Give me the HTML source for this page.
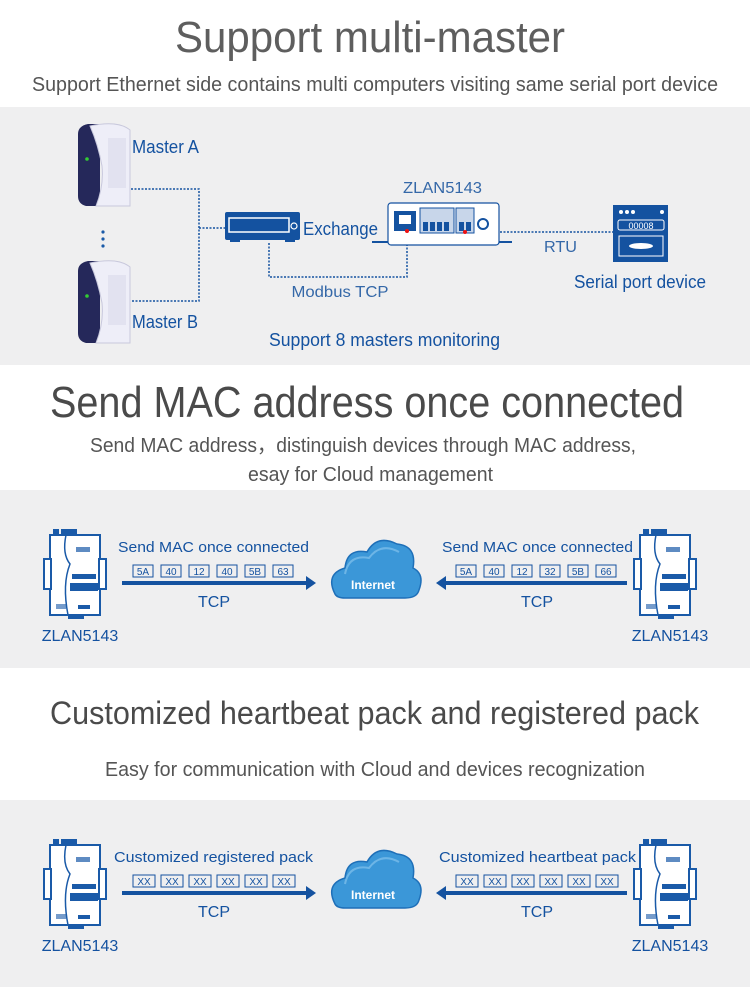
<!DOCTYPE html>
<html><head><meta charset="utf-8"><style>
html,body{margin:0;padding:0;background:#fff;width:750px;height:987px;overflow:hidden}
svg{display:block}
text{font-family:"Liberation Sans",sans-serif}
</style></head><body>
<svg width="750" height="987" viewBox="0 0 750 987" xmlns="http://www.w3.org/2000/svg">
<defs>
<g id="dev">
 <rect x="9" y="0" width="6" height="6" fill="#1a5aa8"/><rect x="17" y="0" width="16" height="6" fill="#1a5aa8"/>
 <rect x="6" y="6" width="50" height="80" fill="#fff" stroke="#1a5aa8" stroke-width="2"/>
 <rect x="0" y="30" width="7" height="30" fill="#fff" stroke="#1a5aa8" stroke-width="2"/>
 <rect x="55" y="30" width="7" height="30" fill="#fff" stroke="#1a5aa8" stroke-width="2"/>
 <path d="M22 6 Q18 25 26 35 Q18 55 24 86" fill="none" stroke="#1a5aa8" stroke-width="1.5"/>
 <rect x="32" y="18" width="14" height="5" fill="#1a5aa8" opacity=".7"/>
 <rect x="28" y="45" width="24" height="5" fill="#1a5aa8"/>
 <rect x="26" y="54" width="28" height="8" fill="#1a5aa8"/>
 <rect x="12" y="75" width="10" height="5" fill="#1a5aa8" opacity=".6"/><rect x="34" y="76" width="12" height="4" fill="#1a5aa8"/>
 <rect x="24" y="86" width="16" height="4" fill="#1a5aa8"/>
</g>
<g id="cloud">
 <path d="M10 60 Q0 40 20 34 Q22 14 42 18 Q52 0 72 10 Q92 12 88 34 Q100 40 94 56 Q92 64 80 64 L20 64 Q12 64 10 60Z" fill="#3b97d8" stroke="#1e6fb8" stroke-width="1.5"/>
 <path d="M20 40 Q24 20 44 24 Q56 8 74 18" fill="none" stroke="#8fcaf0" stroke-width="2" opacity=".6"/>
 <text x="48" y="55" font-size="12" font-weight="bold" fill="#fff" text-anchor="middle">Internet</text>
</g>
<g id="server">
 <path d="M0 10 Q0 2 10 0 L22 0 L22 82 L8 82 Q0 80 0 72Z" fill="#25285a"/>
 <path d="M12 2 Q40 -4 52 6 L52 82 L18 82 Q26 62 24 42 Q20 20 12 2Z" fill="#eeeef8" stroke="#c8c8dc" stroke-width="1"/>
 <rect x="30" y="14" width="18" height="50" fill="#e2e2f0"/>
 <circle cx="9" cy="35" r="1.8" fill="#3c3"/>
</g>
</defs>

<rect x="0" y="107" width="750" height="258" fill="#efeff0"/>
<rect x="0" y="490" width="750" height="178" fill="#efeff0"/>
<rect x="0" y="800" width="750" height="187" fill="#efeff0"/>

<text x="175" y="52" font-size="44" fill="#5e5e5e" textLength="390" lengthAdjust="spacingAndGlyphs">Support multi-master</text>
<text x="32" y="91" font-size="20" fill="#555" textLength="686" lengthAdjust="spacingAndGlyphs">Support Ethernet side contains multi computers visiting same serial port device</text>
<text x="50" y="417" font-size="44" fill="#4a4a4a" textLength="634" lengthAdjust="spacingAndGlyphs">Send MAC address once connected</text>
<text x="90" y="452" font-size="20" fill="#555" textLength="546" lengthAdjust="spacingAndGlyphs">Send MAC address，distinguish devices through MAC address,</text>
<text x="248" y="481" font-size="20" fill="#555" textLength="245" lengthAdjust="spacingAndGlyphs">esay for Cloud management</text>
<text x="50" y="724" font-size="32" fill="#4a4a4a" textLength="649" lengthAdjust="spacingAndGlyphs">Customized heartbeat pack and registered pack</text>
<text x="105" y="776" font-size="20" fill="#555" textLength="540" lengthAdjust="spacingAndGlyphs">Easy for communication with Cloud and devices recognization</text>

<use href="#server" x="78" y="124"/>
<use href="#server" x="78" y="261"/>
<circle cx="103" cy="232" r="1.6" fill="#1a5aa8"/><circle cx="103" cy="239" r="1.6" fill="#1a5aa8"/><circle cx="103" cy="246" r="1.6" fill="#1a5aa8"/>
<text x="132" y="153" font-size="18" fill="#1452a0" textLength="67" lengthAdjust="spacingAndGlyphs">Master A</text>
<text x="132" y="328" font-size="18" fill="#1452a0" textLength="66" lengthAdjust="spacingAndGlyphs">Master B</text>
<g fill="none" stroke="#1452a0" stroke-width="1.5" stroke-dasharray="2,1.5">
 <path d="M131 189 H199 V301 H131"/>
 <path d="M199 228 H225"/>
 <path d="M269 243 V277 H407 V232"/>
 <path d="M465 232 H613"/>
</g>
<rect x="225" y="212" width="75" height="28" rx="2" fill="#1452a0"/>
<rect x="230" y="236" width="10" height="6" fill="#1452a0"/><rect x="285" y="236" width="10" height="6" fill="#1452a0"/>
<rect x="229" y="218" width="60" height="14" fill="none" stroke="#fff" stroke-width="1.5"/>
<circle cx="294" cy="226" r="3" fill="none" stroke="#fff" stroke-width="1.2"/>
<text x="303" y="235" font-size="18" fill="#1452a0" textLength="75" lengthAdjust="spacingAndGlyphs">Exchange</text>
<text x="403" y="193" font-size="16" fill="#3568a8" textLength="79" lengthAdjust="spacingAndGlyphs">ZLAN5143</text>
<line x1="372" y1="242" x2="512" y2="242" stroke="#1452a0" stroke-width="2"/>
<rect x="388" y="203" width="111" height="42" rx="3" fill="#fff" stroke="#1452a0" stroke-width="1.2"/>
<rect x="394" y="211" width="22" height="20" fill="#1452a0"/>
<rect x="399" y="215" width="12" height="9" fill="#fff"/>
<rect x="420" y="208" width="34" height="25" fill="#c8d6ea" stroke="#1452a0"/>
<rect x="456" y="208" width="18" height="25" fill="#c8d6ea" stroke="#1452a0"/>
<g fill="#1452a0"><rect x="423" y="222" width="5" height="9"/><rect x="430" y="222" width="5" height="9"/><rect x="437" y="222" width="5" height="9"/><rect x="444" y="222" width="5" height="9"/><rect x="459" y="222" width="5" height="9"/><rect x="466" y="222" width="5" height="9"/></g>
<circle cx="483" cy="224" r="5" fill="#fff" stroke="#1452a0" stroke-width="2"/>
<circle cx="407" cy="231" r="2" fill="#e11"/><circle cx="465" cy="232" r="2" fill="#e11"/>
<text x="340" y="297" font-size="16" fill="#3568a8" text-anchor="middle" textLength="97" lengthAdjust="spacingAndGlyphs">Modbus TCP</text>
<text x="544" y="252" font-size="16" fill="#3568a8" textLength="33" lengthAdjust="spacingAndGlyphs">RTU</text>
<rect x="613" y="205" width="55" height="57" fill="#1452a0"/>
<circle cx="621" cy="212" r="2" fill="#fff"/><circle cx="627" cy="212" r="2" fill="#fff"/><circle cx="633" cy="212" r="2" fill="#fff"/><circle cx="662" cy="212" r="2" fill="#fff"/>
<rect x="618" y="220" width="46" height="10" rx="2" fill="none" stroke="#fff"/>
<text x="641" y="229" font-size="9" fill="#fff" text-anchor="middle">00008</text>
<rect x="619" y="236" width="44" height="20" fill="none" stroke="#fff"/>
<ellipse cx="641" cy="246" rx="12" ry="3" fill="#fff"/>
<text x="574" y="288" font-size="18" fill="#1452a0" textLength="132" lengthAdjust="spacingAndGlyphs">Serial port device</text>
<text x="269" y="346" font-size="18" fill="#1452a0" textLength="231" lengthAdjust="spacingAndGlyphs">Support 8 masters monitoring</text>

<use href="#dev" x="44" y="529"/>
<use href="#dev" x="634" y="529"/>
<text x="80" y="641" font-size="16" fill="#1452a0" text-anchor="middle">ZLAN5143</text>
<text x="670" y="641" font-size="16" fill="#1452a0" text-anchor="middle">ZLAN5143</text>
<use href="#cloud" x="325" y="534"/>
<text x="118" y="552" font-size="15" fill="#1452a0" textLength="191" lengthAdjust="spacingAndGlyphs">Send MAC once connected</text>
<text x="442" y="552" font-size="15" fill="#1452a0" textLength="191" lengthAdjust="spacingAndGlyphs">Send MAC once connected</text>
<g fill="none" stroke="#1452a0" stroke-width="1">
 <rect x="133" y="565" width="20" height="12"/><rect x="161" y="565" width="20" height="12"/><rect x="189" y="565" width="20" height="12"/><rect x="217" y="565" width="20" height="12"/><rect x="245" y="565" width="20" height="12"/><rect x="273" y="565" width="20" height="12"/>
 <rect x="456" y="565" width="20" height="12"/><rect x="484" y="565" width="20" height="12"/><rect x="512" y="565" width="20" height="12"/><rect x="540" y="565" width="20" height="12"/><rect x="568" y="565" width="20" height="12"/><rect x="596" y="565" width="20" height="12"/>
</g>
<g font-size="10" fill="#1452a0" text-anchor="middle">
 <text x="143" y="575">5A</text><text x="171" y="575">40</text><text x="199" y="575">12</text><text x="227" y="575">40</text><text x="255" y="575">5B</text><text x="283" y="575">63</text>
 <text x="466" y="575">5A</text><text x="494" y="575">40</text><text x="522" y="575">12</text><text x="550" y="575">32</text><text x="578" y="575">5B</text><text x="606" y="575">66</text>
</g>
<rect x="122" y="581" width="186" height="4" fill="#1452a0"/><path d="M306 576 L316 583 L306 590Z" fill="#1452a0"/>
<rect x="444" y="581" width="183" height="4" fill="#1452a0"/><path d="M446 576 L436 583 L446 590Z" fill="#1452a0"/>
<text x="214" y="607" font-size="16" fill="#1452a0" text-anchor="middle">TCP</text>
<text x="537" y="607" font-size="16" fill="#1452a0" text-anchor="middle">TCP</text>

<use href="#dev" x="44" y="839"/>
<use href="#dev" x="634" y="839"/>
<text x="80" y="951" font-size="16" fill="#1452a0" text-anchor="middle">ZLAN5143</text>
<text x="670" y="951" font-size="16" fill="#1452a0" text-anchor="middle">ZLAN5143</text>
<use href="#cloud" x="325" y="844"/>
<text x="114" y="862" font-size="15" fill="#1452a0" textLength="199" lengthAdjust="spacingAndGlyphs">Customized registered pack</text>
<text x="439" y="862" font-size="15" fill="#1452a0" textLength="197" lengthAdjust="spacingAndGlyphs">Customized heartbeat pack</text>
<g fill="none" stroke="#1452a0" stroke-width="1">
 <rect x="133" y="875" width="22" height="12"/><rect x="161" y="875" width="22" height="12"/><rect x="189" y="875" width="22" height="12"/><rect x="217" y="875" width="22" height="12"/><rect x="245" y="875" width="22" height="12"/><rect x="273" y="875" width="22" height="12"/>
 <rect x="456" y="875" width="22" height="12"/><rect x="484" y="875" width="22" height="12"/><rect x="512" y="875" width="22" height="12"/><rect x="540" y="875" width="22" height="12"/><rect x="568" y="875" width="22" height="12"/><rect x="596" y="875" width="22" height="12"/>
</g>
<g font-size="10" fill="#1452a0" text-anchor="middle">
 <text x="144" y="885">XX</text><text x="172" y="885">XX</text><text x="200" y="885">XX</text><text x="228" y="885">XX</text><text x="256" y="885">XX</text><text x="284" y="885">XX</text>
 <text x="467" y="885">XX</text><text x="495" y="885">XX</text><text x="523" y="885">XX</text><text x="551" y="885">XX</text><text x="579" y="885">XX</text><text x="607" y="885">XX</text>
</g>
<rect x="122" y="891" width="186" height="4" fill="#1452a0"/><path d="M306 886 L316 893 L306 900Z" fill="#1452a0"/>
<rect x="444" y="891" width="183" height="4" fill="#1452a0"/><path d="M446 886 L436 893 L446 900Z" fill="#1452a0"/>
<text x="214" y="917" font-size="16" fill="#1452a0" text-anchor="middle">TCP</text>
<text x="537" y="917" font-size="16" fill="#1452a0" text-anchor="middle">TCP</text>
</svg>
</body></html>
